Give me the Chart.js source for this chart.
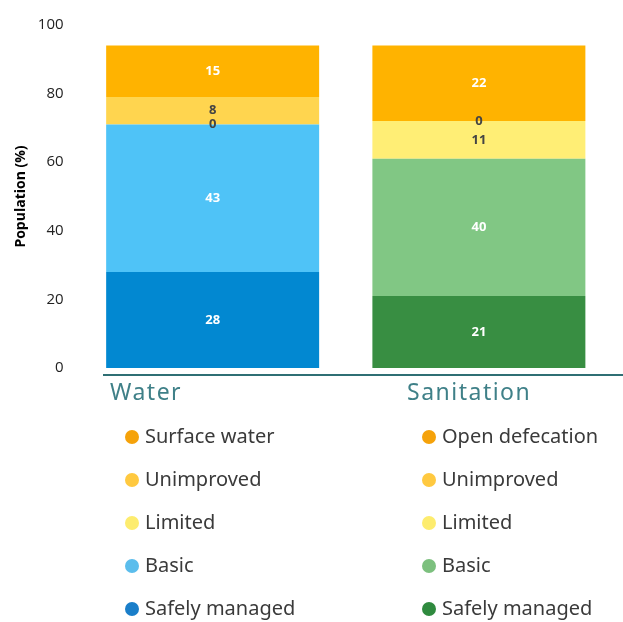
<!DOCTYPE html>
<html>
<head>
<meta charset="utf-8">
<script src="https://cdn.jsdelivr.net/npm/chart.js@4.4.0/dist/chart.umd.min.js"></script>
<style>
    html, body { margin: 0; padding: 0; background: #fff; }
    #wrap { position: relative; width: 623px; height: 622px; }
    #chartBox { position: absolute; left: 0; top: 0; width: 623px; height: 385px; }
    #rule { position: absolute; left: 103px; top: 374px; width: 520px; height: 2px; background: #2f6f74; }
    .col { position: absolute; top: 376px; font-family: "Noto Sans", sans-serif; }
    .col h3 { margin: 0; font-weight: normal; font-size: 23px; letter-spacing: 1.5px; color: #3f8088; line-height: 30px; }
    .item { position: absolute; left: 15px; height: 24px; line-height: 24px; font-size: 20px; color: #3a3a3a; white-space: nowrap; }
    .dot { position: absolute; left: 0; top: 5px; width: 14px; height: 14px; border-radius: 50%; }
    .item span.t { position: absolute; left: 20px; top: -1px; }
</style>
</head>
<body>
<div id="wrap">
    <div id="chartBox"><canvas id="jmpChart"></canvas></div>
    <div id="rule"></div>
    <div class="col" id="legWater" style="left:110px;"></div>
    <div class="col" id="legSan" style="left:407px;"></div>
</div>
<script>
const categories = ['Water', 'Sanitation'];
const seriesNames = ['Safely managed', 'Basic', 'Limited', 'Unimproved', 'Top'];
const safelyManaged = [28, 21];
const basic = [43, 40];
const limited = [0, 11];
const unimproved = [8, 0];
const topLevel = [15, 22];   // surface water / open defecation
const yTicks = [0, 20, 40, 60, 80, 100];

const waterLegend = ['Surface water', 'Unimproved', 'Limited', 'Basic', 'Safely managed'];
const sanitationLegend = ['Open defecation', 'Unimproved', 'Limited', 'Basic', 'Safely managed'];

const colors = {
    safely: ['#0288d1', '#388e42'],
    basic: ['#4fc3f7', '#81c784'],
    limited: ['#ffee75', '#ffee75'],
    unimproved: ['#ffd54f', '#ffd54f'],
    top: ['#ffb300', '#ffb300']
};
const waterDots = ['#f5a20a', '#ffc940', '#fdec6e', '#5bbdec', '#1a7ec9'];
const sanDots = ['#f5a20a', '#ffc940', '#fdec6e', '#7cc07e', '#2f8a3e'];
const labelDark = [false, false, true, true, false];

// value labels in the middle of each segment
const segmentLabels = {
    id: 'segmentLabels',
    afterDatasetsDraw(chart) {
        const ctx = chart.ctx;
        ctx.save();
        ctx.font = 'bold 13px "Open Sans", sans-serif';
        ctx.textAlign = 'center';
        ctx.textBaseline = 'middle';
        chart.data.datasets.forEach((ds, di) => {
            const meta = chart.getDatasetMeta(di);
            meta.data.forEach((bar, i) => {
                const y = (bar.y + bar.base) / 2;
                ctx.fillStyle = labelDark[di] ? '#444' : '#fff';
                ctx.fillText(String(ds.data[i]), bar.x, y);
            });
        });
        ctx.restore();
    }
};

const ctx = document.getElementById('jmpChart').getContext('2d');
new Chart(ctx, {
    type: 'bar',
    data: {
        labels: categories,
        datasets: [
            { label: seriesNames[0], data: safelyManaged, backgroundColor: colors.safely },
            { label: seriesNames[1], data: basic, backgroundColor: colors.basic },
            { label: seriesNames[2], data: limited, backgroundColor: colors.limited },
            { label: seriesNames[3], data: unimproved, backgroundColor: colors.unimproved },
            { label: seriesNames[4], data: topLevel, backgroundColor: colors.top }
        ]
    },
    options: {
        responsive: true,
        maintainAspectRatio: false,
        animation: false,
        layout: { padding: { top: 25, right: 11, bottom: 0, left: 13 } },
        datasets: { bar: { barPercentage: 0.8, categoryPercentage: 1.0 } },
        plugins: {
            legend: { display: false },
            tooltip: { enabled: false }
        },
        scales: {
            x: {
                stacked: true,
                grid: { display: false },
                border: { display: false },
                ticks: { display: false }
            },
            y: {
                stacked: true,
                min: 0,
                max: 100,
                afterBuildTicks: axis => { axis.ticks = yTicks.map(v => ({ value: v })); },
                grid: { display: false },
                border: { display: false },
                ticks: {
                    color: '#222',
                    padding: 8,
                    font: { family: '"Open Sans", sans-serif', size: 15 }
                },
                title: {
                    display: true,
                    text: 'Population (%)',
                    color: '#000',
                    padding: { top: 0, bottom: 0 },
                    font: { family: '"Open Sans", sans-serif', size: 14, weight: 'bold' }
                }
            }
        }
    },
    plugins: [segmentLabels]
});

function buildLegend(el, title, names, dots) {
    let html = '<h3>' + title + '</h3>';
    names.forEach((n, i) => {
        const top = 49 + i * 43;
        html += '<div class="item" style="top:' + top + 'px"><span class="dot" style="background:' +
            dots[i] + '"></span><span class="t">' + n + '</span></div>';
    });
    el.innerHTML = html;
}
buildLegend(document.getElementById('legWater'), categories[0], waterLegend, waterDots);
buildLegend(document.getElementById('legSan'), categories[1], sanitationLegend, sanDots);
</script>
</body>
</html>
